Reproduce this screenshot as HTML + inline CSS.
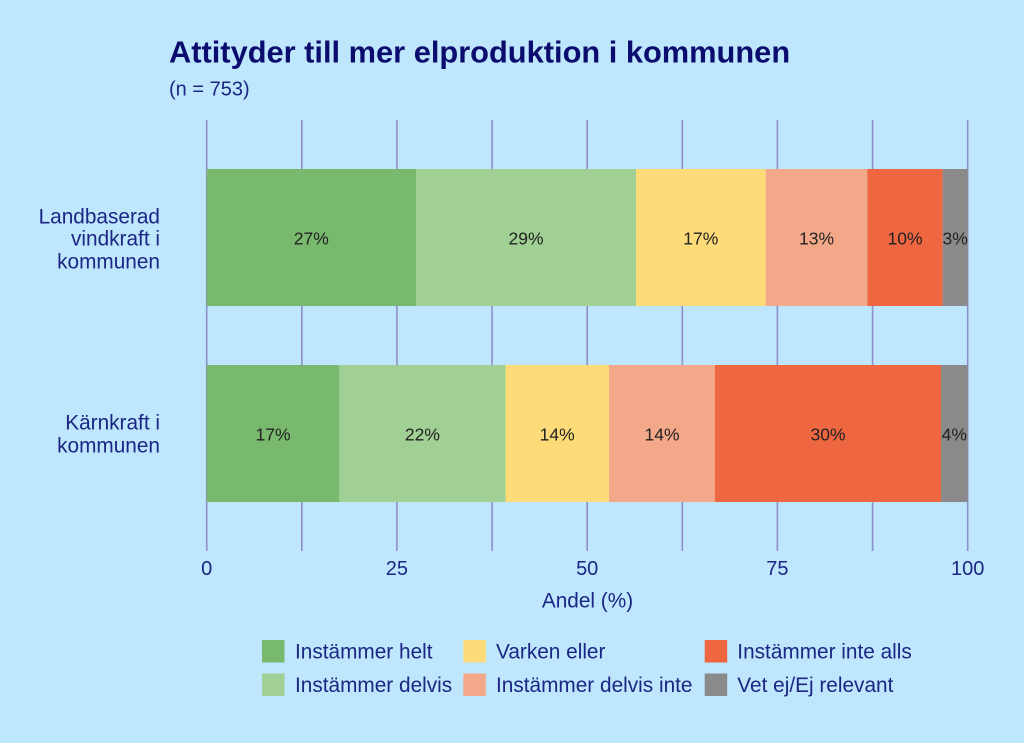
<!DOCTYPE html>
<html>
<head>
<meta charset="utf-8">
<style>
  html, body { margin: 0; padding: 0; background: #bee6fd; }
  svg { display: block; }
  text { font-family: "Liberation Sans", Arial, sans-serif; }
</style>
</head>
<body>
<svg width="1024" height="743" viewBox="0 0 1024 743" xmlns="http://www.w3.org/2000/svg">
  <rect x="0" y="0" width="1024" height="743" fill="#bee6fd"/>
  <rect x="26" y="14" width="974" height="705" fill="#bee6fc"/>

  <!-- Title -->
  <text x="169" y="62.5" font-size="30.8" font-weight="bold" fill="#0c0c6e">Attityder till mer elproduktion i kommunen</text>
  <text x="169" y="95.5" font-size="20" fill="#1c2684">(n = 753)</text>

  <!-- Gridlines -->
  <g stroke="#8e8ec8" stroke-width="1.6">
    <line x1="206.7" y1="120" x2="206.7" y2="551"/>
    <line x1="301.8" y1="120" x2="301.8" y2="551"/>
    <line x1="396.9" y1="120" x2="396.9" y2="551"/>
    <line x1="492.1" y1="120" x2="492.1" y2="551"/>
    <line x1="587.2" y1="120" x2="587.2" y2="551"/>
    <line x1="682.3" y1="120" x2="682.3" y2="551"/>
    <line x1="777.4" y1="120" x2="777.4" y2="551"/>
    <line x1="872.6" y1="120" x2="872.6" y2="551"/>
    <line x1="967.7" y1="120" x2="967.7" y2="551"/>
  </g>

  <!-- Bar 1 -->
  <rect x="206.7" y="169" width="209.3" height="137" fill="#78b96d"/>
  <rect x="416" y="169" width="220" height="137" fill="#a0d093"/>
  <rect x="636" y="169" width="129.7" height="137" fill="#fcdb78"/>
  <rect x="765.7" y="169" width="101.6" height="137" fill="#f4a88a"/>
  <rect x="867.3" y="169" width="75.4" height="137" fill="#ef6741"/>
  <rect x="942.7" y="169" width="25" height="137" fill="#8a8a8a"/>

  <!-- Bar 2 -->
  <rect x="206.7" y="365" width="132.6" height="137" fill="#78b96d"/>
  <rect x="339.3" y="365" width="166.2" height="137" fill="#a0d093"/>
  <rect x="505.5" y="365" width="103.5" height="137" fill="#fcdb78"/>
  <rect x="609" y="365" width="106" height="137" fill="#f4a88a"/>
  <rect x="715" y="365" width="226" height="137" fill="#ef6741"/>
  <rect x="941" y="365" width="26.7" height="137" fill="#8a8a8a"/>

  <!-- Bar value labels -->
  <g font-size="17.5" fill="#222222" text-anchor="middle">
    <text x="311.3" y="244.5">27%</text>
    <text x="526" y="244.5">29%</text>
    <text x="700.8" y="244.5">17%</text>
    <text x="816.5" y="244.5">13%</text>
    <text x="905" y="244.5">10%</text>
    <text x="955.2" y="244.5">3%</text>

    <text x="273" y="440.5">17%</text>
    <text x="422.4" y="440.5">22%</text>
    <text x="557.2" y="440.5">14%</text>
    <text x="662" y="440.5">14%</text>
    <text x="828" y="440.5">30%</text>
    <text x="954.3" y="440.5">4%</text>
  </g>

  <!-- Category labels -->
  <g font-size="20.8" fill="#1c2684" text-anchor="end">
    <text x="160" y="223.3">Landbaserad</text>
    <text x="160" y="245.7">vindkraft i</text>
    <text x="160" y="268.3">kommunen</text>
    <text x="160" y="429.5">Kärnkraft i</text>
    <text x="160" y="452.3">kommunen</text>
  </g>

  <!-- Axis tick labels -->
  <g font-size="20" fill="#1c2684" text-anchor="middle">
    <text x="206.7" y="575">0</text>
    <text x="396.9" y="575">25</text>
    <text x="587.2" y="575">50</text>
    <text x="777.4" y="575">75</text>
    <text x="967.7" y="575">100</text>
    <text x="587.5" y="607.7" font-size="20.8">Andel (%)</text>
  </g>

  <!-- Legend -->
  <rect x="262" y="640" width="22.5" height="22.5" fill="#78b96d"/>
  <rect x="262" y="673.5" width="22.5" height="22.5" fill="#a0d093"/>
  <rect x="463.3" y="640" width="22.5" height="22.5" fill="#fcdb78"/>
  <rect x="463.3" y="673.5" width="22.5" height="22.5" fill="#f4a88a"/>
  <rect x="704.7" y="640" width="22.5" height="22.5" fill="#ef6741"/>
  <rect x="704.7" y="673.5" width="22.5" height="22.5" fill="#8a8a8a"/>
  <g font-size="20.8" fill="#1c2684">
    <text x="295" y="658.5">Instämmer helt</text>
    <text x="295" y="692">Instämmer delvis</text>
    <text x="496" y="658.5">Varken eller</text>
    <text x="496" y="692">Instämmer delvis inte</text>
    <text x="737.3" y="658.5">Instämmer inte alls</text>
    <text x="737.3" y="692">Vet ej/Ej relevant</text>
  </g>
</svg>
</body>
</html>
